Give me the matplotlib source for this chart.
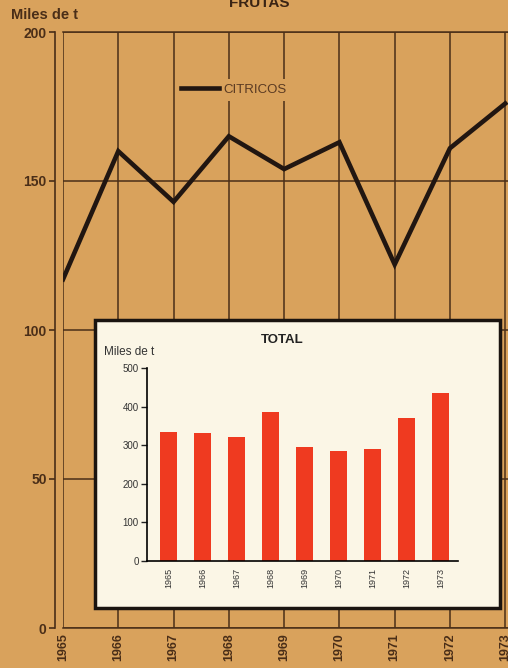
import matplotlib.pyplot as plt
from matplotlib.patches import Rectangle

# Citrus production (thousand t)
years = [1965, 1966, 1967, 1968, 1969, 1970, 1971, 1972, 1973]
citricos = [117, 160, 143, 165, 154, 163, 122, 161, 176]

# Total fruit production (thousand t), inset bars
total_labels = ["1965", "1966", "1967", "1968", "1969", "1970", "1971", "1972", "1973"]
total_values = [335, 331, 322, 387, 295, 285, 289, 370, 434]

main_ticks = [0, 50, 100, 150, 200]
inset_ticks = [0, 100, 200, 300, 400, 500]

plt.rcParams['font.family'] = ['Liberation Sans', 'DejaVu Sans']

bg = "#d9a25c"
ink = "#4a2e18"
paper = "#fbf6e6"
red = "#ef3a20"

fig = plt.figure(figsize=(5.08, 6.68), dpi=100)
fig.patch.set_facecolor(bg)

ax = fig.add_axes([63 / 508, 1 - 628 / 668, 1 - 63 / 508, 596 / 668])
ax.set_facecolor(bg)
# spine position first: it resets the tick labels
ax.spines["left"].set_position(("outward", 5.5))
ax.spines["left"].set_color(ink)
ax.spines["left"].set_linewidth(1.2)
for side in ["top", "bottom"]:
    ax.spines[side].set_color(ink)
    ax.spines[side].set_linewidth(1.1)
ax.spines["right"].set_visible(False)

ax.plot(years, citricos, color="#211611", lw=3.3, solid_joinstyle="miter",
        label="CITRICOS", zorder=3)
ax.set_xlim(1965, 1973.05)
ax.set_ylim(0, 200)
ax.set_xticks(years)
ax.set_xticklabels([str(y) for y in years], rotation=90, fontsize=9,
                   fontweight="bold", color=ink)
ax.set_yticks(main_ticks)
ax.set_yticklabels([str(v) for v in main_ticks], fontsize=10,
                   fontweight="bold", color=ink)
ax.tick_params(axis="x", length=0, pad=4)
ax.tick_params(axis="y", length=4.3, width=1.2, color=ink, pad=2)
ax.grid(True, color=ink, lw=1.1)
ax.set_axisbelow(True)

leg = ax.legend(loc="center left", bbox_to_anchor=(176 / 508, 1 - 90 / 668),
                bbox_transform=fig.transFigure, frameon=True,
                facecolor=bg, edgecolor="none", framealpha=1, fontsize=9.5,
                handlelength=2.9, handletextpad=0.35, borderpad=0.35,
                borderaxespad=0)
for t in leg.get_texts():
    t.set_color("#5a3a22")

fig.text(259 / 508, 1 - 7 / 668, "FRUTAS", ha="center", va="baseline",
         fontsize=11, fontweight="bold", color="#3a2414")
fig.text(11 / 508, 1 - 15 / 668, "Miles de t", ha="left", va="center",
         fontsize=10.5, fontweight="bold", color=ink)

# Inset panel
box = Rectangle((95 / 508, 1 - 608 / 668), 405 / 508, 288 / 668,
                transform=fig.transFigure, facecolor=paper, edgecolor="#1a1410",
                lw=2.5, zorder=5)
fig.patches.append(box)

ix = fig.add_axes([147 / 508, 1 - 561 / 668, 311 / 508, 193 / 668], zorder=6)
ix.patch.set_alpha(0)
for side in ["top", "right"]:
    ix.spines[side].set_visible(False)
ix.spines["left"].set_linewidth(1.2)
ix.spines["bottom"].set_linewidth(1.2)

pos = list(range(len(total_values)))
ix.bar(pos, total_values, width=0.5, color=red)
ix.set_xlim(-0.63, 8.51)
ix.set_ylim(0, 500)
ix.set_xticks(pos)
ix.set_xticklabels(total_labels, rotation=90, fontsize=6.5, color="#333333")
ix.set_yticks(inset_ticks)
ix.set_yticklabels([str(v) for v in inset_ticks], fontsize=7, color="#333333")
ix.tick_params(axis="x", length=0, pad=5)
ix.tick_params(axis="y", length=4, width=1.0, color="#222222", pad=2)

fig.text(282 / 508, 1 - 340 / 668, "TOTAL", ha="center", va="center",
         fontsize=9.5, fontweight="bold", color="#222222", zorder=7)
fig.text(104 / 508, 1 - 352 / 668, "Miles de t", ha="left", va="center",
         fontsize=8.5, color="#333333", zorder=7)

fig.savefig("out.png", dpi=100, facecolor=bg)
